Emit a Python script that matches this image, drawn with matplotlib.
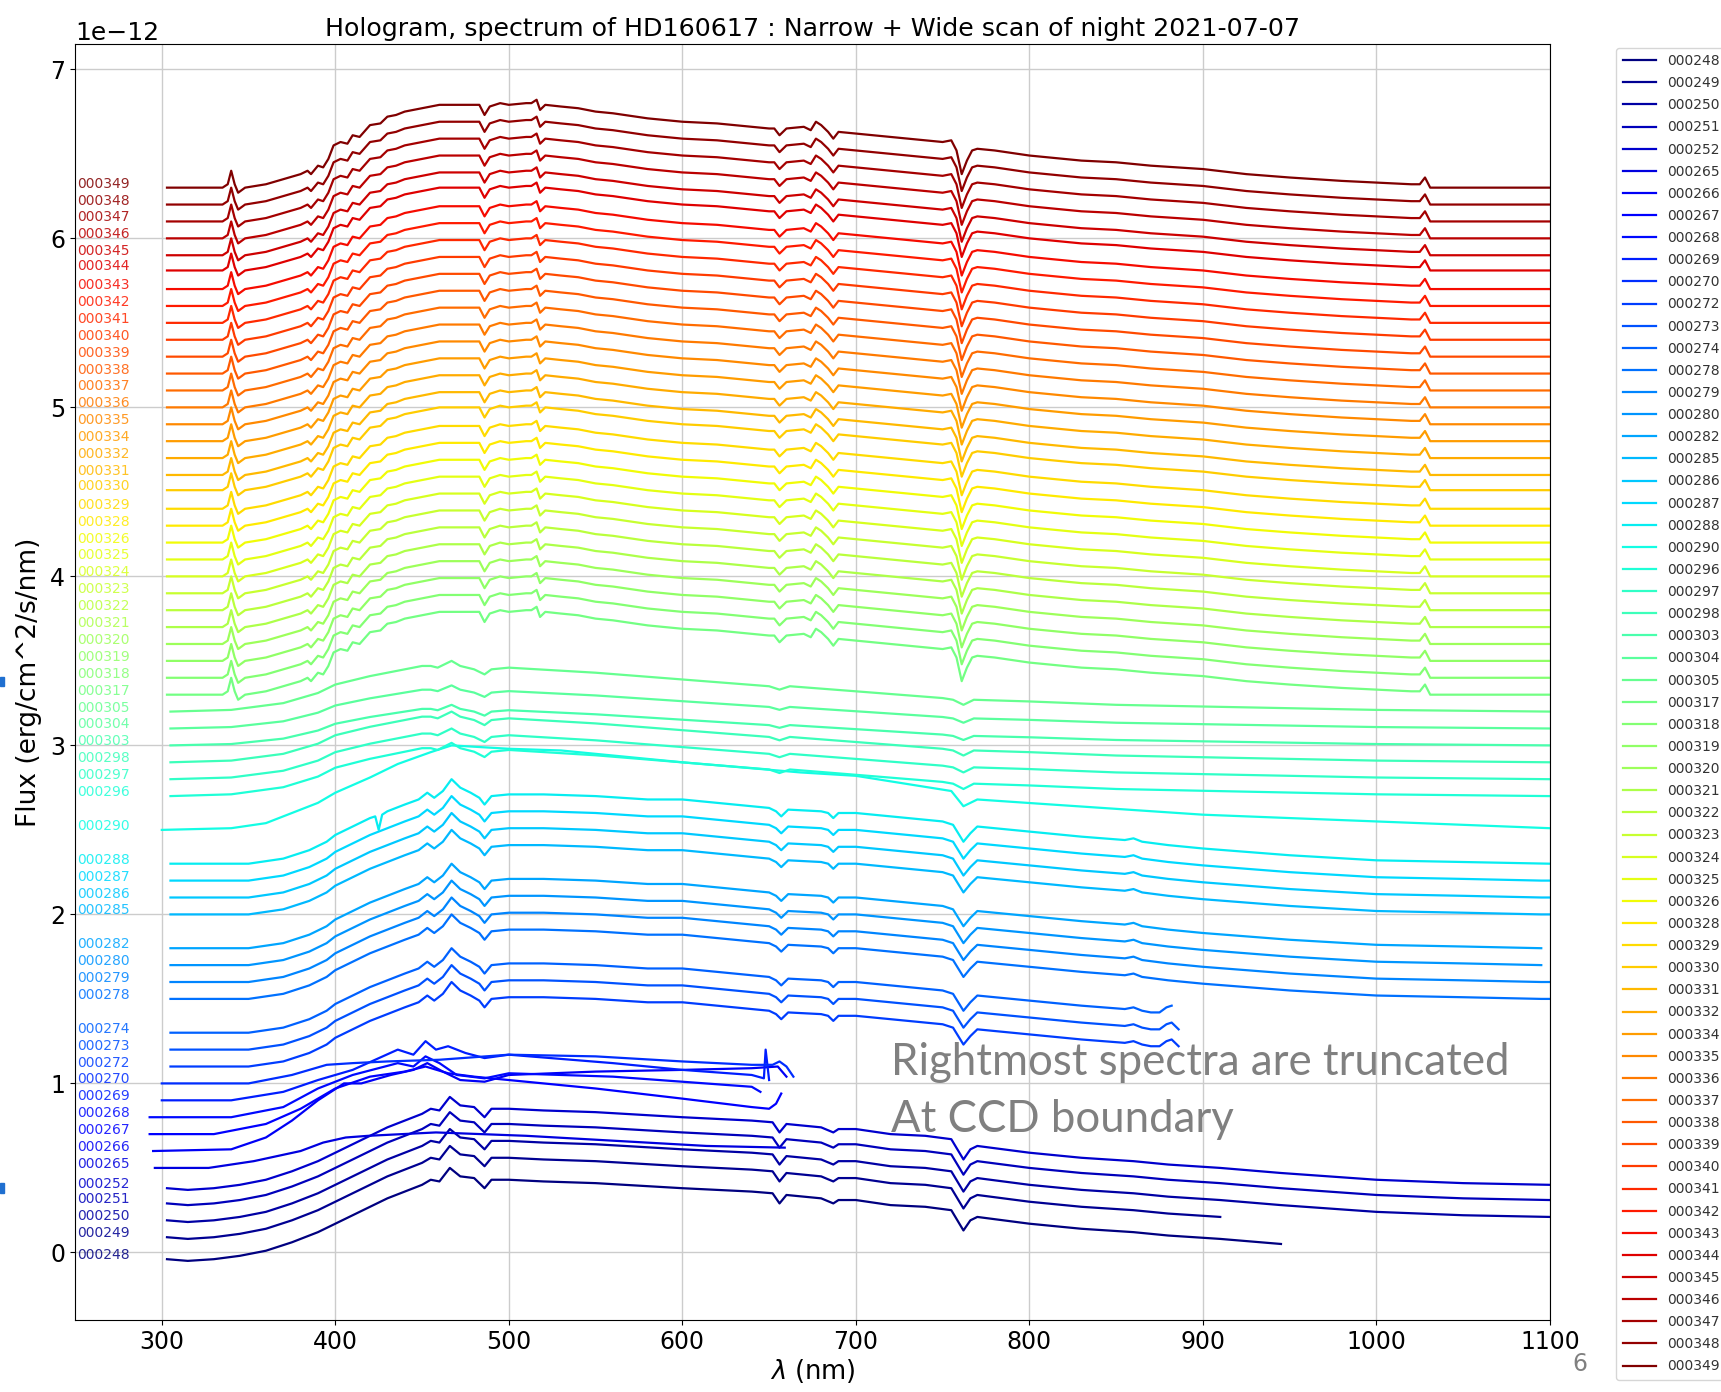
import numpy as np
import matplotlib
matplotlib.use("Agg")
import matplotlib.pyplot as plt
from matplotlib.patches import Rectangle

plt.rcParams["font.size"] = 17

# ── Data ─────────────────────────────────────────────────────────────────────

SERIES = ["000248", "000249", "000250", "000251", "000252", "000265", "000266",
          "000267", "000268", "000269", "000270", "000272", "000273", "000274",
          "000278", "000279", "000280", "000282", "000285", "000286", "000287",
          "000288", "000290", "000296", "000297", "000298", "000303", "000304",
          "000305", "000317", "000318", "000319", "000320", "000321", "000322",
          "000323", "000324", "000325", "000326", "000328", "000329", "000330",
          "000331", "000332", "000334", "000335", "000336", "000337", "000338",
          "000339", "000340", "000341", "000342", "000343", "000344", "000345",
          "000346", "000347", "000348", "000349"]

# flux at the blue end (1e-12 erg/cm^2/s/nm), i.e. the vertical offset
Y0 = [-0.04, 0.09, 0.19, 0.29, 0.38, 0.50, 0.60,
      0.70, 0.80, 0.90, 1.00, 1.10, 1.20, 1.30,
      1.50, 1.60, 1.70, 1.80, 2.00, 2.10, 2.20,
      2.30, 2.50, 2.70, 2.80, 2.90, 3.00, 3.10,
      3.20, 3.30, 3.40, 3.50, 3.60, 3.70, 3.80,
      3.90, 4.00, 4.10, 4.20, 4.30, 4.40, 4.51,
      4.60, 4.70, 4.80, 4.90, 5.00, 5.10, 5.20,
      5.30, 5.40, 5.50, 5.60, 5.70, 5.81, 5.90,
      6.00, 6.10, 6.20, 6.30]

WL_START = [303, 303, 303, 303, 303, 296, 295,
            293, 293, 300, 300, 305, 305, 305,
            305, 305, 305, 305, 305, 305, 305,
            305, 300, 305, 305, 305, 305, 305,
            305] + [303] * 31

WL_END = [945, 910, 1100, 1100, 1100, 659, 660,
          657, 645, 650, 664, 886, 886, 882,
          1100, 1100, 1095, 1095, 1100, 1100, 1100,
          1100, 1100, 1100, 1100, 1100, 1100, 1100,
          1100] + [1100] * 31

SHAPE = ["H"] * 5 + ["custom"] * 6 + ["F"] * 3 + ["D"] * 7 + ["G"] + ["custom"] + \
        ["B"] * 6 + ["A"] * 31

AMP = [1.0] * 5 + [1.0] * 6 + [1.0] * 3 + [1.0] * 8 + [1.0] + \
      [1.05, 1.0, 1.0, 0.8, 0.85, 1.0] + [1.0] * 31

# shape templates: flux above the blue-end value
A_WL = [303, 320, 335, 338, 340, 342, 344, 348, 360, 370, 380, 384, 386, 390,
        393, 396, 399, 403, 407, 410, 414, 420, 426, 430, 435, 440, 450, 460,
        470, 480, 483, 486, 489, 495, 500, 510, 513, 516, 518, 521, 530, 540,
        550, 560, 580, 600, 620, 640, 650, 653, 656, 660, 670, 674, 677, 680,
        684, 687, 690, 700, 720, 740, 750, 755, 758, 761, 764, 767, 770, 780,
        800, 820, 830, 850, 870, 900, 925, 950, 980, 1000, 1020, 1025, 1028,
        1031, 1040, 1060, 1080, 1100]
A_VAL = [0.0, 0.0, 0.0, 0.02, 0.10, 0.02, -0.03, 0.0, 0.02, 0.05, 0.08, 0.10, 0.08, 0.13,
         0.12, 0.17, 0.25, 0.27, 0.26, 0.31, 0.30, 0.37, 0.38, 0.42, 0.43, 0.45, 0.47, 0.49,
         0.49, 0.49, 0.49, 0.43, 0.48, 0.50, 0.49, 0.50, 0.50, 0.52, 0.46, 0.49, 0.48, 0.47,
         0.45, 0.44, 0.41, 0.39, 0.38, 0.36, 0.35, 0.35, 0.31, 0.35, 0.36, 0.34, 0.39, 0.37,
         0.33, 0.29, 0.33, 0.32, 0.30, 0.28, 0.27, 0.28, 0.22, 0.08, 0.16, 0.22, 0.23, 0.22,
         0.19, 0.17, 0.16, 0.15, 0.13, 0.11, 0.08, 0.06, 0.04, 0.03, 0.02, 0.02, 0.06,
         0.0, 0.0, 0.0, 0.0, 0.0]

B_WL = [305, 340, 370, 390, 400, 420, 440, 450, 455, 459, 467, 472, 480, 486,
        490, 500, 550, 600, 650, 656, 662, 700, 750, 756, 762, 768, 800, 850,
        900, 950, 1000, 1100]
B_VAL = [0.0, 0.01, 0.05, 0.11, 0.16, 0.21, 0.25, 0.27, 0.27, 0.26, 0.30, 0.27, 0.25, 0.22,
         0.25, 0.26, 0.23, 0.19, 0.15, 0.13, 0.15, 0.12, 0.08, 0.07, 0.04, 0.07, 0.06, 0.04,
         0.03, 0.02, 0.01, 0.0]

D_WL = [305, 330, 350, 370, 385, 395, 400, 410, 420, 430, 440, 448, 453, 457,
        462, 467, 472, 478, 483, 486, 490, 500, 520, 550, 580, 600, 630, 650,
        654, 657, 661, 680, 684, 687, 690, 700, 720, 750, 756, 762, 766, 770,
        800, 830, 855, 860, 865, 880, 900, 950, 1000, 1050, 1095, 1100]
D_VAL = [0.0, 0.0, 0.0, 0.03, 0.08, 0.13, 0.17, 0.22, 0.27, 0.31, 0.35, 0.38, 0.42, 0.39,
         0.43, 0.50, 0.45, 0.42, 0.39, 0.35, 0.40, 0.41, 0.41, 0.40, 0.38, 0.38, 0.35, 0.33,
         0.31, 0.28, 0.32, 0.31, 0.30, 0.27, 0.30, 0.30, 0.28, 0.25, 0.23, 0.13, 0.18, 0.22,
         0.19, 0.16, 0.14, 0.15, 0.13, 0.11, 0.09, 0.05, 0.02, 0.01, 0.0, 0.0]

# 000288: same shape with the glitch at 425 nm
G_WL = [305, 330, 350, 370, 385, 395, 400, 410, 420, 423, 425, 427, 430, 440,
        448, 453, 457, 462, 467, 472, 478, 483, 486, 490, 500, 520, 550, 580,
        600, 630, 650, 654, 657, 661, 680, 684, 687, 690, 700, 720, 750, 756,
        762, 766, 770, 800, 830, 855, 860, 865, 880, 900, 950, 1000, 1050, 1100]
G_VAL = [0.0, 0.0, 0.0, 0.03, 0.08, 0.13, 0.17, 0.22, 0.27, 0.28, 0.20, 0.29, 0.31, 0.35,
         0.38, 0.42, 0.39, 0.43, 0.50, 0.45, 0.42, 0.39, 0.35, 0.40, 0.41, 0.41, 0.40, 0.38,
         0.38, 0.35, 0.33, 0.31, 0.28, 0.32, 0.31, 0.30, 0.27, 0.30, 0.30, 0.28, 0.25, 0.23,
         0.13, 0.18, 0.22, 0.19, 0.16, 0.14, 0.15, 0.13, 0.11, 0.09, 0.05, 0.02, 0.01, 0.0]

F_WL = [305, 330, 350, 370, 385, 395, 400, 410, 420, 430, 440, 448, 453, 457,
        462, 467, 472, 478, 483, 486, 490, 500, 520, 550, 580, 600, 630, 650,
        654, 657, 661, 680, 684, 687, 690, 700, 720, 750, 756, 762, 766, 770,
        800, 830, 855, 860, 865, 870, 875, 879, 882, 886]
F_VAL = [0.0, 0.0, 0.0, 0.03, 0.08, 0.13, 0.17, 0.22, 0.27, 0.31, 0.35, 0.38, 0.42, 0.39,
         0.43, 0.50, 0.45, 0.42, 0.39, 0.35, 0.40, 0.41, 0.41, 0.40, 0.38, 0.38, 0.35, 0.33,
         0.31, 0.28, 0.32, 0.31, 0.30, 0.27, 0.30, 0.30, 0.28, 0.25, 0.23, 0.13, 0.18, 0.22,
         0.19, 0.16, 0.14, 0.15, 0.13, 0.12, 0.12, 0.15, 0.16, 0.12]

H_WL = [303, 315, 330, 345, 360, 375, 390, 400, 410, 420, 430, 440, 450, 455,
        460, 466, 472, 480, 486, 490, 500, 520, 550, 600, 640, 652, 656, 660,
        680, 687, 690, 700, 720, 740, 755, 762, 766, 770, 800, 830, 860, 880,
        910, 945, 1000, 1050, 1100]
H_VAL = [0.0, -0.01, 0.0, 0.02, 0.05, 0.10, 0.16, 0.21, 0.26, 0.31, 0.36, 0.40, 0.44, 0.47,
         0.46, 0.54, 0.49, 0.48, 0.42, 0.47, 0.47, 0.46, 0.45, 0.42, 0.40, 0.39, 0.33, 0.38,
         0.36, 0.33, 0.35, 0.35, 0.32, 0.31, 0.29, 0.17, 0.23, 0.25, 0.21, 0.18, 0.16, 0.14,
         0.12, 0.09, 0.05, 0.03, 0.02]

# individual spectra that do not follow a template (absolute flux)
S290_WL = [300, 340, 360, 390, 400, 420, 436, 455, 467, 500, 530,
           600, 668, 700, 755, 762, 770, 813, 900, 950, 1000, 1100]
S290_VAL = [2.50, 2.51, 2.54, 2.66, 2.72, 2.81, 2.89, 2.96, 3.00, 2.98, 2.97,
            2.90, 2.84, 2.82, 2.73, 2.64, 2.68, 2.65, 2.59, 2.57, 2.55, 2.51]

S270_WL = [300, 350, 375, 395, 410, 430, 460, 500, 550, 600, 640, 652, 656, 660, 664]
S270_VAL = [1.00, 1.00, 1.05, 1.11, 1.12, 1.13, 1.14, 1.17, 1.16, 1.13, 1.11, 1.11, 1.13, 1.10, 1.04]

S269_WL = [300, 340, 370, 390, 410, 436, 445, 452, 458, 465, 475, 486, 500, 560,
           600, 640, 647, 648, 650]
S269_VAL = [0.90, 0.90, 0.95, 1.02, 1.08, 1.20, 1.17, 1.25, 1.20, 1.22, 1.18, 1.15, 1.17, 1.12,
            1.08, 1.05, 1.03, 1.20, 1.02]

S268_WL = [293, 340, 370, 390, 410, 436, 445, 452, 460, 470, 486, 500, 560, 600, 640, 645]
S268_VAL = [0.80, 0.80, 0.86, 0.97, 1.05, 1.12, 1.10, 1.16, 1.12, 1.05, 1.03, 1.06, 1.04, 1.01,
            0.98, 0.95]

S267_WL = [293, 330, 360, 380, 400, 420, 440, 452, 465, 480, 500, 550, 600, 640, 650, 654, 657]
S267_VAL = [0.70, 0.70, 0.76, 0.85, 0.97, 1.04, 1.07, 1.10, 1.06, 1.04, 1.02, 0.97, 0.91, 0.86,
            0.85, 0.88, 0.94]

S266_WL = [295, 340, 360, 375, 390, 405, 415, 432, 445, 453, 462, 472, 486, 500,
           550, 600, 640, 655, 660]
S266_VAL = [0.60, 0.61, 0.68, 0.78, 0.90, 1.00, 1.00, 1.05, 1.08, 1.12, 1.07, 1.02, 1.01, 1.05,
            1.07, 1.08, 1.09, 1.10, 1.04]

S265_WL = [296, 327, 353, 380, 393, 406, 419, 458, 510, 562, 614, 659]
S265_VAL = [0.50, 0.50, 0.54, 0.60, 0.65, 0.68, 0.69, 0.71, 0.69, 0.66, 0.63, 0.62]

TEMPLATES = {"A": (A_WL, A_VAL), "B": (B_WL, B_VAL), "D": (D_WL, D_VAL),
             "G": (G_WL, G_VAL), "F": (F_WL, F_VAL), "H": (H_WL, H_VAL)}
CUSTOM = {"000290": (S290_WL, S290_VAL), "000270": (S270_WL, S270_VAL),
          "000269": (S269_WL, S269_VAL), "000268": (S268_WL, S268_VAL),
          "000267": (S267_WL, S267_VAL), "000266": (S266_WL, S266_VAL),
          "000265": (S265_WL, S265_VAL)}

TITLE = "Hologram, spectrum of HD160617 : Narrow + Wide scan of night 2021-07-07"

# ── Plot ─────────────────────────────────────────────────────────────────────

fig = plt.figure(figsize=(17.21, 13.92), dpi=100)
ax = fig.add_axes([0.0436, 0.0517, 0.857, 0.9167])

n = len(SERIES)
for i, sid in enumerate(SERIES):
    color = plt.cm.jet(i / (n - 1))
    if SHAPE[i] == "custom":
        wl = np.array(CUSTOM[sid][0], dtype=float)
        flux = np.array(CUSTOM[sid][1])
    else:
        twl = np.array(TEMPLATES[SHAPE[i]][0], dtype=float)
        tval = np.array(TEMPLATES[SHAPE[i]][1])
        m = (twl >= WL_START[i]) & (twl <= WL_END[i])
        wl = twl[m]
        flux = Y0[i] + AMP[i] * tval[m]
    ax.plot(wl, flux * 1e-12, color=color, lw=1.6, label=sid)
    ax.text(251, Y0[i] * 1e-12, sid, color=color, alpha=0.85, fontsize=10,
            ha="left", va="baseline")

ax.set_xlim(250, 1100)
ax.set_ylim(-0.4e-12, 7.15e-12)
ax.set_xticks(np.arange(300, 1101, 100))
ax.set_yticks(np.arange(0, 8) * 1e-12)
ax.tick_params(labelsize=17)
ax.yaxis.get_offset_text().set_fontsize(18)
ax.grid(True, color="#cccccc", lw=1)
ax.set_axisbelow(True)
ax.set_xlabel(r"$\lambda$ (nm)", fontsize=18.5, labelpad=2)
ax.set_ylabel("Flux (erg/cm^2/s/nm)", fontsize=19, labelpad=6)
ax.set_title(TITLE, fontsize=18.2)

ax.legend(loc="upper left", bbox_to_anchor=(1.045, 0.997), borderaxespad=0,
          fontsize=10, labelspacing=0.585, handlelength=2.4, borderpad=0.45,
          frameon=True, edgecolor="#cccccc", labelcolor="#333333")

fig.text(0.518, 0.237, "Rightmost spectra are truncated", family="Lato",
         fontsize=31.5, color="#808080", va="center")
fig.text(0.518, 0.196, "At CCD boundary", family="Lato",
         fontsize=31.5, color="#808080", va="center")
fig.text(0.918, 0.015, "6", fontsize=17, color="#808080", ha="center")

# small blue marks on the slide edge
for yf in (0.507, 0.143):
    fig.patches.append(Rectangle((0, yf), 0.0025, 0.007, transform=fig.transFigure,
                                 color="#1f6fd0", figure=fig))

fig.savefig("out.png", dpi=100)
